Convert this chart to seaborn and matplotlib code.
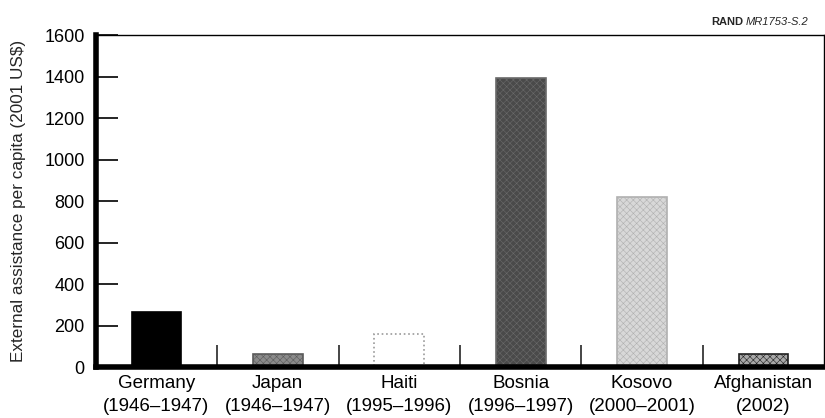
import numpy as np
import pandas as pd
import matplotlib
matplotlib.use('Agg')
import matplotlib.pyplot as plt
import seaborn as sns

# 数据
countries = ['Germany', 'Japan', 'Haiti', 'Bosnia', 'Kosovo', 'Afghanistan']
periods = ['(1946–1947)', '(1946–1947)', '(1995–1996)', '(1996–1997)', '(2000–2001)', '(2002)']
assistance = [265, 63, 160, 1395, 820, 63]
bar_colors = ['#000000', '#8a8a8a', '#ffffff', '#4a4a4a', '#d8d8d8', '#a8a8a8']
edge_colors = ['#000000', '#5a5a5a', '#9a9a9a', '#6a6a6a', '#b0b0b0', '#202020']
hatches = ['', 'xxxxx', '', 'xxxxx', 'xxxxx', 'xxxxx']

sns.set_style('white')
plt.rcParams['font.family'] = ['Liberation Sans', 'DejaVu Sans']
plt.rcParams['hatch.linewidth'] = 0.4

labels = [c + '\n' + p for c, p in zip(countries, periods)]
df = pd.DataFrame({'label': labels, 'value': assistance})

fig = plt.figure(figsize=(8.25, 4.18), dpi=100)
ax = fig.add_axes([0.116, 0.122, 0.883, 0.794])
sns.barplot(data=df, x='label', y='value', hue='label', palette=bar_colors,
            width=0.41, legend=False, ax=ax, saturation=1)

for i, p in enumerate(ax.patches):
    p.set_edgecolor(edge_colors[i])
    p.set_hatch(hatches[i])
    p.set_linewidth(1.2)
    if i == 2:
        p.set_linestyle(':')

ax.set_xlim(-0.5, 5.5)
ax.set_ylim(0, 1600)
ax.set_yticks(range(0, 1601, 200))
ax.set_xlabel('')
ax.set_ylabel('External assistance per capita (2001 US$)', fontsize=12.3)
ax.yaxis.set_label_coords(-0.095, 0.5)

for side in ['left', 'bottom']:
    ax.spines[side].set_linewidth(4)
    ax.spines[side].set_color('black')
for side in ['top', 'right']:
    ax.spines[side].set_linewidth(1)
    ax.spines[side].set_color('black')

ax.tick_params(axis='y', left=True, direction='in', length=16, width=1.2,
               labelsize=13, pad=8, colors='black')
ax.tick_params(axis='x', which='major', bottom=True, length=0, labelsize=13.5, pad=6)
ax.set_xticks(np.arange(0.5, 5, 1), minor=True)
ax.tick_params(axis='x', which='minor', bottom=True, direction='in', length=16, width=1.2)
for t in ax.get_xticklabels():
    t.set_linespacing(1.4)
    t.set_color('black')
for t in ax.get_yticklabels():
    t.set_color('black')

fig.text(0.901, 0.94, 'RAND', fontsize=8, fontweight='bold', ha='right', va='baseline')
fig.text(0.904, 0.94, 'MR1753-S.2', fontsize=8, fontstyle='italic', ha='left', va='baseline')

plt.savefig('out.png', dpi=100)
